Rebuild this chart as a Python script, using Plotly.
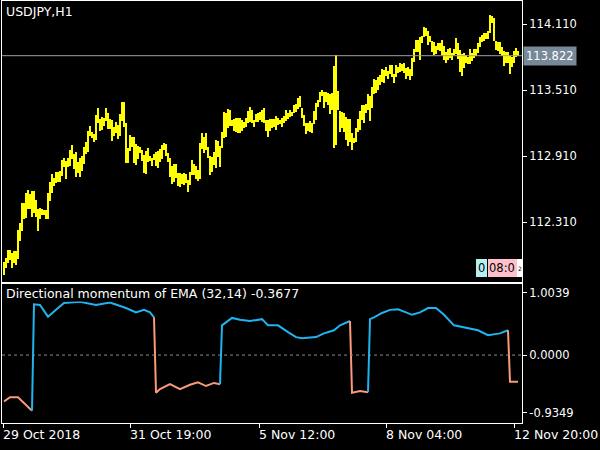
import plotly.graph_objects as go

# USDJPY H1 bars (high / low)
high = [
    111.946, 111.983, 112.055, 112.055, 112.028, 112.046, 112.046, 112.237, 112.301, 112.483,
    112.483, 112.573, 112.601, 112.564, 112.592, 112.592, 112.510, 112.428, 112.437, 112.428,
    112.419, 112.419, 112.573, 112.673, 112.746, 112.710, 112.764, 112.764, 112.774, 112.874,
    112.892, 112.865, 112.892, 112.965, 113.010, 112.928, 112.946, 112.855, 112.892, 112.910,
    112.992, 113.037, 113.137, 113.183, 113.128, 113.110, 113.283, 113.346, 113.246, 113.265,
    113.255, 113.346, 113.301, 113.246, 113.237, 113.173, 113.219, 113.192, 113.292, 113.401,
    113.401, 113.210, 112.983, 113.101, 113.083, 113.083, 113.019, 113.001, 112.992, 112.965,
    112.919, 112.955, 112.983, 112.910, 112.892, 112.928, 112.946, 112.955, 112.974, 113.010,
    113.028, 113.019, 112.937, 112.892, 112.819, 112.837, 112.837, 112.755, 112.755, 112.746,
    112.755, 112.746, 112.692, 112.764, 112.874, 112.837, 112.819, 112.783,
    113.028, 113.119, 113.083, 113.119, 112.992, 112.910, 112.901, 112.946, 113.055, 113.046,
    113.001, 113.128, 113.310, 113.301, 113.337, 113.328, 113.237, 113.246, 113.255, 113.255,
    113.255, 113.237, 113.219, 113.255, 113.319, 113.355, 113.328, 113.237, 113.292, 113.301,
    113.310, 113.328, 113.346, 113.237, 113.237, 113.246, 113.246, 113.246, 113.273, 113.255,
    113.237, 113.255, 113.273, 113.328, 113.301, 113.328, 113.310, 113.374, 113.383, 113.437,
    113.455, 113.346, 113.283, 113.210, 113.210, 113.228, 113.210, 113.319, 113.392, 113.419,
    113.492, 113.510, 113.492, 113.492, 113.483, 113.474, 113.483, 113.728, 113.828, 113.501,
    113.319, 113.310, 113.301, 113.265, 113.246, 113.246, 113.119, 113.074, 113.165, 113.246,
    113.319, 113.374, 113.374, 113.383, 113.474, 113.455, 113.537, 113.610, 113.601, 113.628,
    113.646, 113.701, 113.692, 113.719, 113.683, 113.737, 113.737, 113.655, 113.737, 113.719,
    113.755, 113.746, 113.755, 113.710, 113.719, 113.701, 113.801, 113.883, 113.964, 113.964,
    113.992, 114.001, 114.083, 114.074, 114.046, 114.001, 113.955, 113.946, 113.910, 113.937,
    113.937, 113.964, 113.910, 113.855, 113.883, 113.892, 113.846, 113.883, 113.983, 113.937,
    113.874, 113.837, 113.846, 113.828, 113.810, 113.883, 113.846, 113.883, 113.883, 113.937,
    113.992, 114.010, 114.028, 114.028, 114.046, 114.192, 114.183, 114.164, 113.955, 113.946,
    113.946, 113.901, 113.864, 113.855, 113.855, 113.819, 113.810, 113.864, 113.892, 113.864,
]
low = [
    111.828, 111.892, 111.937, 111.965, 111.892, 111.937, 111.919, 111.974, 112.137, 112.228,
    112.337, 112.346, 112.428, 112.428, 112.355, 112.392, 112.355, 112.228, 112.337, 112.373,
    112.373, 112.337, 112.337, 112.501, 112.573, 112.637, 112.664, 112.673, 112.673, 112.728,
    112.810, 112.701, 112.810, 112.819, 112.883, 112.792, 112.719, 112.755, 112.719, 112.774,
    112.837, 112.928, 112.946, 113.092, 113.074, 113.037, 113.055, 113.210, 113.137, 113.146,
    113.183, 113.228, 113.155, 113.155, 113.046, 113.092, 113.119, 113.065, 113.092, 113.228,
    113.173, 112.846, 112.846, 112.955, 112.992, 112.846, 112.828, 112.883, 112.937, 112.865,
    112.755, 112.746, 112.855, 112.865, 112.819, 112.874, 112.819, 112.801, 112.855, 112.883,
    112.965, 112.910, 112.855, 112.719, 112.655, 112.673, 112.710, 112.637, 112.628, 112.655,
    112.646, 112.664, 112.583, 112.646, 112.737, 112.737, 112.701, 112.683,
    112.701, 112.974, 112.937, 112.965, 112.892, 112.737, 112.764, 112.828, 112.801, 112.901,
    112.810, 112.983, 113.074, 113.083, 113.164, 113.183, 113.183, 113.137, 113.128, 113.119,
    113.119, 113.137, 113.164, 113.173, 113.210, 113.219, 113.210, 113.173, 113.219, 113.219,
    113.237, 113.219, 113.210, 113.137, 113.083, 113.137, 113.164, 113.173, 113.146, 113.192,
    113.201, 113.173, 113.210, 113.228, 113.246, 113.265, 113.274, 113.301, 113.310, 113.337,
    113.355, 113.255, 113.183, 113.110, 113.137, 113.128, 113.119, 113.201, 113.237, 113.355,
    113.401, 113.455, 113.346, 113.401, 113.374, 113.292, 113.328, 112.983, 113.010, 113.328,
    113.128, 113.164, 113.128, 113.055, 113.001, 113.037, 112.965, 113.028, 113.037, 113.128,
    113.146, 113.237, 113.210, 113.301, 113.328, 113.228, 113.346, 113.474, 113.483, 113.510,
    113.555, 113.583, 113.574, 113.637, 113.610, 113.655, 113.628, 113.574, 113.628, 113.664,
    113.674, 113.683, 113.664, 113.610, 113.637, 113.601, 113.637, 113.764, 113.855, 113.855,
    113.783, 113.937, 113.992, 114.001, 113.919, 113.946, 113.855, 113.828, 113.837, 113.874,
    113.864, 113.828, 113.783, 113.755, 113.783, 113.801, 113.783, 113.828, 113.837, 113.792,
    113.674, 113.637, 113.710, 113.755, 113.746, 113.746, 113.774, 113.801, 113.819, 113.846,
    113.901, 113.946, 113.955, 113.974, 113.974, 114.028, 114.119, 113.955, 113.874, 113.864,
    113.837, 113.819, 113.728, 113.755, 113.755, 113.655, 113.719, 113.755, 113.810, 113.819,
]
bid = 113.822

# indicator samples: bar index -> value
ind_bar = [0, 3, 7, 11, 14, 15, 18, 22, 26, 30, 38, 46, 53, 56, 61, 66, 70, 73, 75,
           76, 78, 83, 88, 93, 97, 101, 105, 108,
           109, 114, 118, 123, 129, 132, 137, 142, 146, 149, 156, 160, 165, 168, 173,
           174, 178, 182,
           183, 185, 189, 193, 197, 201, 204, 208, 212, 216, 220, 225, 230, 237, 242, 248, 252,
           253, 257]
ind_val = [-0.75, -0.68, -0.68, -0.80, -0.90, 0.82, 0.81, 0.62, 0.73, 0.84, 0.86, 0.81, 0.85, 0.82, 0.76, 0.69, 0.73, 0.69, 0.61,
           -0.61, -0.55, -0.47, -0.55, -0.48, -0.44, -0.50, -0.45, -0.47,
           0.48, 0.60, 0.57, 0.55, 0.58, 0.48, 0.48, 0.37, 0.29, 0.27, 0.29, 0.35, 0.40, 0.48, 0.55,
           -0.61, -0.58, -0.60,
           0.58, 0.61, 0.68, 0.73, 0.74, 0.69, 0.65, 0.69, 0.76, 0.76, 0.65, 0.48, 0.45, 0.40, 0.32, 0.35, 0.40,
           -0.43, -0.43]

price_ticks = [114.110, 113.510, 112.910, 112.310]
ind_ticks = [1.0039, 0.0, -0.9349]
ind_tick_text = ["1.0039", "0.0000", "-0.9349"]
time_tick_bar = [-0.5, 63, 127.5, 191, 255]
time_tick_text = ["29 Oct 2018", "31 Oct 19:00", "5 Nov 12:00", "8 Nov 04:00", "12 Nov 20:00"]

FONT = "DejaVu Sans"
WHITE = "#ffffff"
BLUE = "#1eb4f0"
SALMON = "#fa9a78"
LBL = 12.5

fig = go.Figure()

fig.add_trace(go.Bar(x=list(range(len(high))), base=low,
                     y=[h - l for h, l in zip(high, low)], width=0.3,
                     marker=dict(color="#ffff00", line=dict(width=0)),
                     xaxis="x", yaxis="y", hoverinfo="skip"))

fig.add_trace(go.Scatter(x=[-1, 259], y=[bid, bid], mode="lines",
                         line=dict(color="#a0a0a0", width=1), xaxis="x", yaxis="y"))

# indicator: split into colored runs (vertical jump takes the new colour)
runs = []
cur = [0]
for j in range(1, len(ind_val)):
    if (ind_val[j] >= 0) != (ind_val[j - 1] >= 0):
        runs.append(cur)
        cur = [j - 1, j]
    else:
        cur.append(j)
runs.append(cur)
for r in runs:
    last = r[-1]
    col = BLUE if ind_val[last] >= 0 else SALMON
    fig.add_trace(go.Scatter(x=[ind_bar[j] for j in r], y=[ind_val[j] for j in r],
                             mode="lines", line=dict(color=col, width=2),
                             xaxis="x2", yaxis="y2", hoverinfo="skip"))

fig.add_shape(type="line", xref="x2", yref="y2", x0=-1, x1=259, y0=0, y1=0,
              line=dict(color="#8a8a8a", width=1, dash="3px,3px"))

axis_common = dict(showline=True, linecolor=WHITE, linewidth=1, mirror=True,
                   showgrid=False, zeroline=False)
fig.update_layout(
    width=600, height=450,
    paper_bgcolor="black", plot_bgcolor="black",
    margin=dict(l=2, r=78, t=1, b=27, autoexpand=False),
    showlegend=False, bargap=0,
    font=dict(family=FONT, size=11.5, color=WHITE),
    xaxis=dict(domain=[0, 1], range=[-1, 259], showticklabels=False, ticks="", anchor="y", **axis_common),
    yaxis=dict(domain=[0.334, 1], range=[111.765, 114.319], side="right",
               tickvals=price_ticks, ticktext=[f"{v:.3f}" for v in price_ticks],
               ticks="outside", ticklen=4, tickcolor=WHITE, anchor="x", **axis_common),
    xaxis2=dict(domain=[0, 1], range=[-1, 259], tickvals=time_tick_bar, ticktext=[""] * 5,
                ticks="outside", ticklen=4, tickcolor=WHITE, anchor="y2", **axis_common),
    yaxis2=dict(domain=[0, 0.329], range=[-1.097, 1.145], side="right",
                tickvals=ind_ticks, ticktext=ind_tick_text,
                ticks="outside", ticklen=4, tickcolor=WHITE, anchor="x2", **axis_common),
)

for tb, tt in zip(time_tick_bar, time_tick_text):
    fig.add_annotation(x=tb, xref="x2", y=-0.005, yref="paper", text=tt, showarrow=False,
                       xanchor="left", yanchor="top", xshift=-2, font=dict(size=LBL, color=WHITE))

fig.add_annotation(x=0, xref="paper", y=1, yref="paper", text="USDJPY,H1", showarrow=False,
                   xanchor="left", yanchor="top", xshift=2, yshift=-1, font=dict(size=LBL, color=WHITE))
fig.add_annotation(x=0, xref="paper", y=0.329, yref="paper",
                   text="Directional momentum of EMA (32,14) -0.3677", showarrow=False,
                   xanchor="left", yanchor="top", xshift=3, yshift=-1, bgcolor="black",
                   borderpad=0, font=dict(size=LBL, color=WHITE))

fig.add_annotation(x=1, xref="paper", y=bid, yref="y", text="113.822", showarrow=False,
                   xanchor="left", yanchor="middle", xshift=1, bgcolor="#778899",
                   borderpad=2, font=dict(size=11.5, color=WHITE))

# countdown boxes (bottom right of the price panel)
boxes = [(0.9115, 0.9327, "#b4f0f0", "0", 11.5),
         (0.9346, 0.9904, "#ffc0cb", "08:0", 11.5),
         (0.9904, 1.0, "#ffffff", "2", 6)]
for x0, x1, bg, txt, fs in boxes:
    fig.add_shape(type="rect", xref="paper", yref="paper", x0=x0, x1=x1, y0=0.346, y1=0.3886,
                  fillcolor=bg, line=dict(width=0), layer="above")
    fig.add_annotation(x=(x0 + x1) / 2, xref="paper", y=0.367, yref="paper", text=txt,
                       showarrow=False, xanchor="center", yanchor="middle", borderpad=0,
                       font=dict(size=fs, color="black"))

fig.write_html("out.html", config={"displayModeBar": False},
               post_script="document.body.style.margin='0';document.body.style.background='black';")
